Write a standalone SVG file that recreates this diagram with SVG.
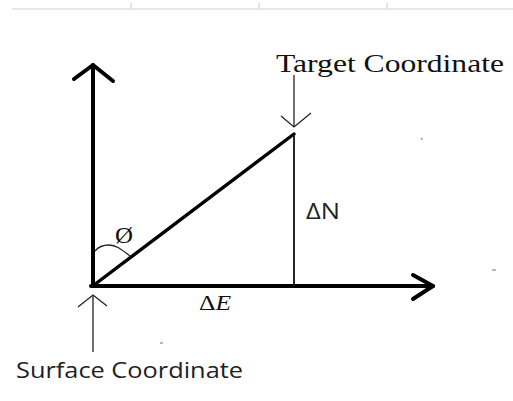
<svg xmlns="http://www.w3.org/2000/svg" width="513" height="401" viewBox="0 0 513 401">
<style>
.bg{fill:#ffffff}
.grid{stroke:#d4d4d4;stroke-width:1.2;fill:none}
.thick{stroke:#000;stroke-width:4;fill:none;stroke-linecap:round;stroke-linejoin:round}
.mid{stroke:#000;stroke-width:3.4;fill:none;stroke-linecap:round}
.thin{stroke:#111;stroke-width:1.8;fill:none}
.hair{stroke:#222;stroke-width:1.3;fill:none}
.serif{font-family:"Liberation Serif","Times New Roman",serif;fill:#111}
.sans{font-family:"Open Sans","Liberation Sans",sans-serif;fill:#222}
.speck{stroke:#888;stroke-width:1.2;fill:none}
</style>
<rect class="bg" x="0" y="0" width="513" height="401"/>
<g id="grid">
<line class="grid" x1="12" y1="9" x2="513" y2="9"/>
<line class="grid" x1="131" y1="3" x2="131" y2="9"/>
<line class="grid" x1="259" y1="3" x2="259" y2="9"/>
<line class="grid" x1="387" y1="3" x2="387" y2="9"/>
</g>
<g id="connectors">
<g id="north-axis">
<line class="thick" x1="93" y1="286" x2="93" y2="65"/>
<polyline class="thick" points="74,79 93,65 113,81"/>
</g>
<g id="east-axis">
<line class="thick" x1="91" y1="286" x2="433" y2="286"/>
<polyline class="thick" points="413,275 433,286 413,299"/>
</g>
<line id="hypotenuse" class="mid" x1="94" y1="285" x2="294" y2="134"/>
<line id="delta-n-line" class="thin" x1="294" y1="133" x2="294" y2="286"/>
<g id="target-arrow">
<line class="hair" x1="294" y1="75" x2="294" y2="127"/>
<polyline class="hair" points="281,116 294,127 311,113"/>
</g>
<g id="surface-arrow">
<line class="hair" x1="93" y1="295" x2="93" y2="352"/>
<polyline class="hair" points="78,307 93,295 107,306"/>
</g>
<path id="angle-arc" class="hair" d="M95,251 C99,246 104,245 109,245 C116,245 121,249 130,256"/>
</g>
<g id="target-label">
<text class="serif" x="276" y="72" font-size="24.5" textLength="228" lengthAdjust="spacingAndGlyphs">Target Coordinate</text>
</g>
<g id="surface-label">
<text class="sans" x="16" y="378" font-size="21" textLength="227" lengthAdjust="spacingAndGlyphs">Surface Coordinate</text>
</g>
<g id="delta-n-label">
<text class="sans" x="306" y="219" font-size="21" textLength="34" lengthAdjust="spacingAndGlyphs">ΔN</text>
</g>
<g id="delta-e-label">
<text class="serif" x="199" y="310" font-size="20" textLength="32" lengthAdjust="spacingAndGlyphs">Δ<tspan font-style="italic">E</tspan></text>
</g>
<g id="angle-label">
<text class="serif" x="115" y="243" font-size="23" textLength="18" lengthAdjust="spacingAndGlyphs">Ø</text>
</g>
<g id="specks">
<line class="speck" x1="421" y1="138" x2="422.5" y2="139.5"/>
<line class="speck" x1="492" y1="270" x2="496" y2="270"/>
<line class="speck" x1="160" y1="343" x2="163" y2="343"/>
</g>
</svg>
